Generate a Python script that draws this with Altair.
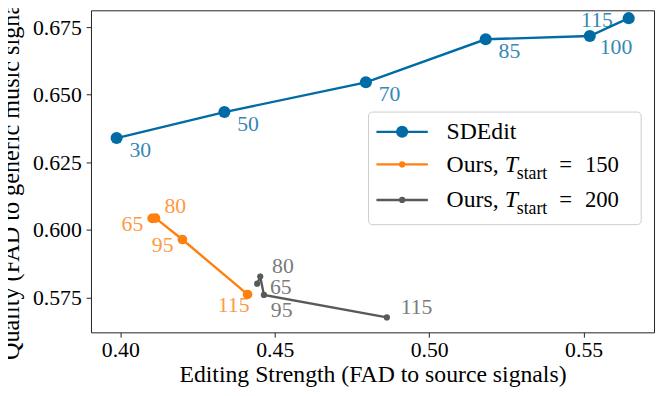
import altair as alt
import pandas as pd

# ---- data ----
series_names = ["SDEdit", "Ours150", "Ours200"]
series_colors = ["#006BA4", "#FF800E", "#595959"]

sd_steps = [30, 50, 70, 85, 100, 115]
sd_x = [0.3988, 0.4337, 0.4795, 0.5183, 0.5520, 0.5646]
sd_y = [0.6340, 0.6436, 0.6546, 0.6705, 0.6717, 0.6783]

o150_steps = [65, 80, 95, 115]
o150_x = [0.4103, 0.4114, 0.4201, 0.4412]
o150_y = [0.6043, 0.6044, 0.5965, 0.5762]

o200_steps = [65, 80, 95, 115]
o200_x = [0.4443, 0.4453, 0.4465, 0.4863]
o200_y = [0.5802, 0.5828, 0.5760, 0.5677]

x_ticks = [0.40, 0.45, 0.50, 0.55]
y_ticks = [0.575, 0.600, 0.625, 0.650, 0.675]
x_title = "Editing Strength (FAD to source signals)"
y_title = "Quality (FAD to generic music signals)"

rows = []
for name, steps, xv, yv in [
    ("SDEdit", sd_steps, sd_x, sd_y),
    ("Ours150", o150_steps, o150_x, o150_y),
    ("Ours200", o200_steps, o200_x, o200_y),
]:
    for s, a, b in zip(steps, xv, yv):
        rows.append({"series": name, "step": s, "x": a, "y": b})
df = pd.DataFrame(rows)

FONT = "Liberation Serif"
W, H = 570, 326
FRAME = "#222222"

xs = alt.Scale(domain=[0.3905, 0.5728], nice=False, zero=False)
ys = alt.Scale(domain=[0.5622, 0.6812], nice=False, zero=False)
cs = alt.Scale(domain=series_names, range=series_colors)

X = alt.X("x:Q", scale=xs, axis=alt.Axis(
    values=x_ticks, format=".2f", title=x_title, grid=False, domain=False,
    tickSize=4.9, tickColor=FRAME, labelPadding=20, labelBaseline="alphabetic",
    labelFont=FONT, labelFontSize=22, labelColor="#000",
    titleFont=FONT, titleFontSize=24, titleFontWeight="normal", titleColor="#000",
    titleBaseline="alphabetic", titleY=50, titleX=W / 2))
Y = alt.Y("y:Q", scale=ys, axis=alt.Axis(
    values=y_ticks, format=".3f", title=y_title, grid=False, domain=False,
    tickSize=4.9, tickColor=FRAME, labelPadding=4.9,
    labelFont=FONT, labelFontSize=22, labelColor="#000",
    titleFont=FONT, titleFontSize=24.5, titleFontWeight="normal", titleColor="#000",
    titleAngle=270, titleBaseline="middle", titleX=-80, titleY=161))

base = alt.Chart(df)
lines = base.mark_line(strokeWidth=2.4).encode(
    x=X, y=Y, color=alt.Color("series:N", scale=cs, legend=None),
    detail="series:N", order="step:Q")
points = base.mark_circle(opacity=1).encode(
    x=X, y=Y, color=alt.Color("series:N", scale=cs, legend=None),
    size=alt.Size("series:N", scale=alt.Scale(domain=series_names, range=[150, 40, 40]), legend=None))


def labels(series, steps, dx, dy, align, color):
    expr = f"datum.series == '{series}' && indexof({list(steps)}, datum.step) >= 0"
    return base.transform_filter(expr).mark_text(
        dx=dx, dy=dy, align=align, baseline="middle", font=FONT,
        fontSize=22, color=color, opacity=0.8).encode(x=X, y=Y, text="step:Q")


blue, orange, gray = series_colors
lab_layers = [
    labels("SDEdit", [30, 50, 70, 85], 13, 12, "left", blue),
    labels("SDEdit", [100], 10, 11, "left", blue),
    labels("SDEdit", [115], -16, 2, "right", blue),
    labels("Ours150", [65, 95], -9, 6, "right", orange),
    labels("Ours150", [80], 9, -12, "left", orange),
    labels("Ours150", [115], 2, 11, "right", orange),
    labels("Ours200", [80], 12, -11, "left", gray),
    labels("Ours200", [65], 13, 3, "left", gray),
    labels("Ours200", [95], 7, 15, "left", gray),
    labels("Ours200", [115], 14, -10, "left", gray),
]

# ---- legend (drawn by hand so the subscript can be typeset) ----
one = pd.DataFrame({"k": [0]})
LX0, LX1, LY0, LY1 = 281, 557, 103, 217
leg_box = alt.Chart(one).mark_rect(
    fill="white", fillOpacity=0.8, stroke="#cccccc", strokeWidth=1, cornerRadius=4
).encode(x=alt.value(LX0), x2=alt.value(LX1), y=alt.value(LY0), y2=alt.value(LY1))

leg_layers = [leg_box]
entry_y = [123, 156, 192]
text_base = [130.5, 163.5, 199.5]
msize = [150, 40, 40]
for i in range(3):
    leg_layers.append(alt.Chart(one).mark_rule(color=series_colors[i], strokeWidth=2.4).encode(
        x=alt.value(289), x2=alt.value(341), y=alt.value(entry_y[i])))
    leg_layers.append(alt.Chart(one).mark_circle(color=series_colors[i], opacity=1, size=msize[i]).encode(
        x=alt.value(315), y=alt.value(entry_y[i])))


def ltext(txt, x, y, size=24, style="normal"):
    return alt.Chart(one).mark_text(align="left", baseline="alphabetic", font=FONT,
                                    fontSize=size, fontStyle=style, color="#000").encode(
        x=alt.value(x), y=alt.value(y), text=alt.value(txt))


leg_layers.append(ltext("SDEdit", 360, text_base[0]))
for i, val in [(1, "150"), (2, "200")]:
    b = text_base[i]
    leg_layers += [
        ltext("Ours,", 360, b),
        ltext("T", 419, b, style="italic"),
        ltext("start", 431, b + 7, size=18),
        ltext("=", 474, b, size=23),
        ltext(val, 500, b, size=23),
    ]

chart = alt.layer(lines, points, *lab_layers, *leg_layers).properties(
    width=W, height=H,
    autosize=alt.AutoSizeParams(type="none"),
    padding={"left": 84, "top": 0, "right": 2, "bottom": 54},
).configure_view(stroke=FRAME, strokeWidth=1)

chart.save("out.html", embed_options={"renderer": "svg", "actions": False})
